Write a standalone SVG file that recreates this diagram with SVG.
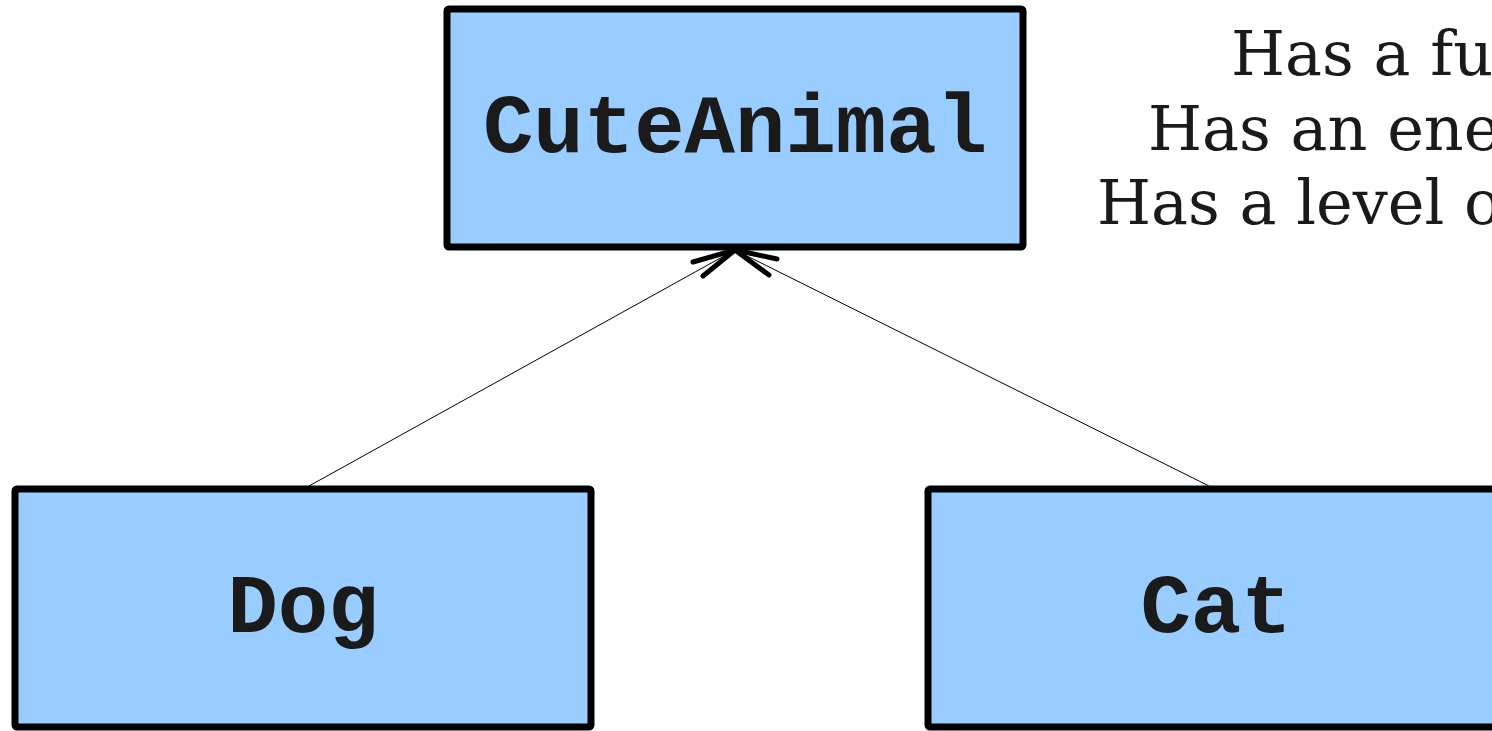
<svg xmlns="http://www.w3.org/2000/svg" width="1492" height="731" viewBox="0 0 1492 731">
  <style>
    .box { fill: #99ccff; stroke: #000; stroke-width: 7; stroke-linejoin: round; }
    .name { font-family: "Liberation Mono", "Courier New", monospace; font-weight: bold; font-size: 84px; fill: #1a1a1a; text-anchor: middle; }
    .note { font-family: "DejaVu Serif", serif; font-size: 62px; fill: #1a1a1a; }
    .edge { stroke: #000; stroke-width: 1; fill: none; }
    .head { stroke: #000; stroke-width: 5; fill: none; stroke-linecap: round; stroke-linejoin: round; }
  </style>
  <rect width="1492" height="731" fill="#fff"/>

  <g id="connectors">
    <line class="edge" x1="309" y1="486" x2="733" y2="251"/>
    <line class="edge" x1="1209" y1="486" x2="737" y2="251"/>
    <polyline class="head" points="693,262 735,250 703,276"/>
    <polyline class="head" points="777,259 735,250 769,275"/>
  </g>

  <g id="cute-animal">
    <rect class="box" x="447" y="9" width="576" height="238" rx="2"/>
    <text class="name" x="735" y="152">CuteAnimal</text>
  </g>

  <g id="dog">
    <rect class="box" x="15" y="489" width="576" height="238" rx="2"/>
    <text class="name" x="303" y="632">Dog</text>
  </g>

  <g id="cat">
    <rect class="box" x="928" y="489" width="576" height="238" rx="2"/>
    <text class="name" x="1216" y="632">Cat</text>
  </g>

  <g id="note">
    <text class="note" x="1231" y="75">Has a fur color</text>
    <text class="note" x="1148" y="150">Has an energy level</text>
    <text class="note" x="1097" y="224">Has a level of cuteness</text>
  </g>
</svg>
